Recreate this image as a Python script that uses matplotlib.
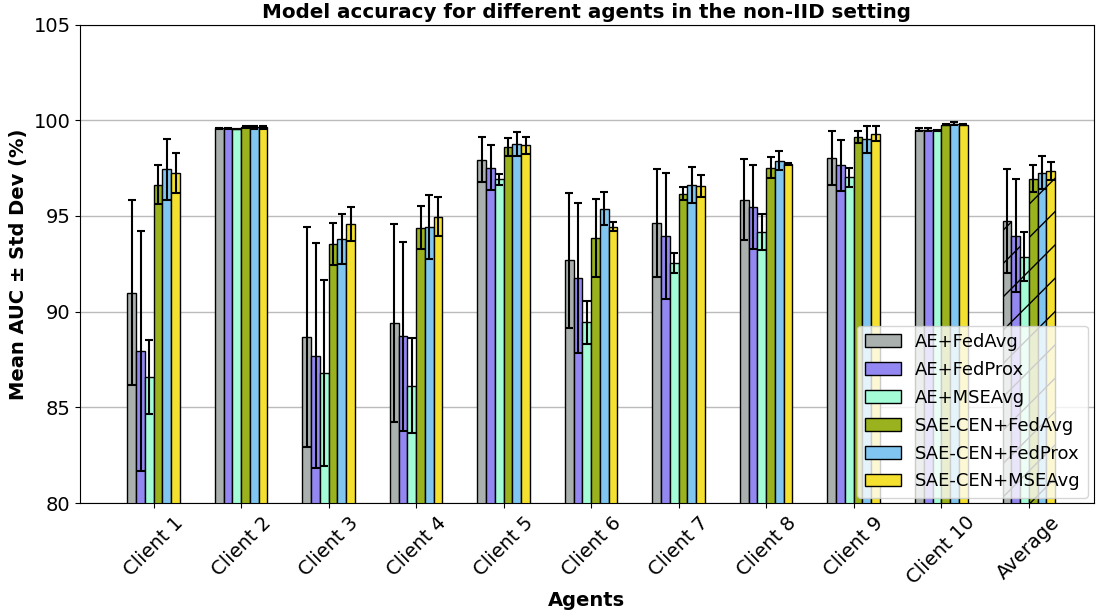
import numpy as np
import matplotlib
matplotlib.use('Agg')
import matplotlib.pyplot as plt

agents = ['Client 1', 'Client 2', 'Client 3', 'Client 4', 'Client 5', 'Client 6',
          'Client 7', 'Client 8', 'Client 9', 'Client 10', 'Average']
methods = ['AE+FedAvg', 'AE+FedProx', 'AE+MSEAvg',
           'SAE-CEN+FedAvg', 'SAE-CEN+FedProx', 'SAE-CEN+MSEAvg']

# mean AUC per method, one value per agent
ae_fedavg = [91.0, 99.58, 88.67, 89.41, 97.95, 92.69, 94.62, 95.86, 98.04, 99.51, 94.74]
ae_fedprox = [87.95, 99.58, 87.69, 88.71, 97.52, 91.75, 93.95, 95.47, 97.66, 99.51, 93.97]
ae_mseavg = [86.6, 99.55, 86.78, 86.12, 96.91, 89.44, 92.53, 94.16, 97.03, 99.48, 92.87]
sae_fedavg = [96.64, 99.63, 93.55, 94.39, 98.62, 93.85, 96.17, 97.52, 99.13, 99.77, 96.94]
sae_fedprox = [97.43, 99.63, 93.81, 94.41, 98.78, 95.38, 96.63, 97.88, 99.0, 99.83, 97.27]
sae_mseavg = [97.26, 99.63, 94.58, 94.97, 98.69, 94.44, 96.57, 97.73, 99.3, 99.77, 97.33]

# std dev per method
ae_fedavg_std = [4.85, 0.04, 5.76, 5.16, 1.19, 3.53, 2.82, 2.14, 1.4, 0.07, 2.7]
ae_fedprox_std = [6.25, 0.03, 5.88, 4.94, 1.17, 3.92, 3.27, 2.21, 1.33, 0.07, 2.96]
ae_mseavg_std = [1.93, 0.02, 4.85, 2.48, 0.28, 1.14, 0.52, 0.94, 0.5, 0.02, 1.27]
sae_fedavg_std = [1.0, 0.05, 1.09, 1.12, 0.47, 2.04, 0.33, 0.54, 0.32, 0.03, 0.7]
sae_fedprox_std = [1.6, 0.09, 1.31, 1.67, 0.62, 0.87, 0.95, 0.49, 0.71, 0.07, 0.85]
sae_mseavg_std = [1.05, 0.08, 0.9, 1.03, 0.46, 0.25, 0.58, 0.05, 0.4, 0.03, 0.47]

means = [ae_fedavg, ae_fedprox, ae_mseavg, sae_fedavg, sae_fedprox, sae_mseavg]
stds = [ae_fedavg_std, ae_fedprox_std, ae_mseavg_std, sae_fedavg_std, sae_fedprox_std, sae_mseavg_std]
colors = ['#a9b0ad', '#9388f2', '#a4fcd6', '#9ab21d', '#80c6f0', '#f4e12f']


def main():
    fig, ax = plt.subplots(figsize=(10.99, 6.15), dpi=100)
    x = np.arange(len(agents))
    width = 0.1

    # bars first
    for i, m in enumerate(means):
        pos = x + (i - 2.5) * width
        bars = ax.bar(pos, m, width, color=colors[i], edgecolor='black',
                      linewidth=1, label=methods[i])
        # hatch the average group
        bars[-1].set_hatch('/')

    # error bars on top of every bar
    for i, (m, s) in enumerate(zip(means, stds)):
        pos = x + (i - 2.5) * width
        ax.errorbar(pos, m, yerr=s, fmt='none', ecolor='black', elinewidth=1.5,
                    capsize=3, capthick=1.5, zorder=3)

    ax.set_ylim(80, 105)
    ax.set_xlim(-0.84, 10.74)
    ax.set_xticks(x)
    ax.set_xticklabels(agents, rotation=45, fontsize=14)
    ax.tick_params(axis='y', labelsize=14)
    ax.set_xlabel('Agents', fontsize=14, fontweight='bold', labelpad=2)
    ax.set_ylabel('Mean AUC ± Std Dev (%)', fontsize=14, fontweight='bold')
    ax.set_title('Model accuracy for different agents in the non-IID setting',
                 fontsize=14.3, fontweight='bold', pad=5)
    ax.yaxis.grid(True, color='#bbbbbb', linewidth=1)
    ax.set_axisbelow(True)
    ax.legend(loc='lower right', fontsize=13, borderaxespad=0.3, labelspacing=0.55)

    plt.subplots_adjust(left=0.073, right=0.995, top=0.96, bottom=0.182)
    plt.savefig('out.png')


if __name__ == '__main__':
    main()
